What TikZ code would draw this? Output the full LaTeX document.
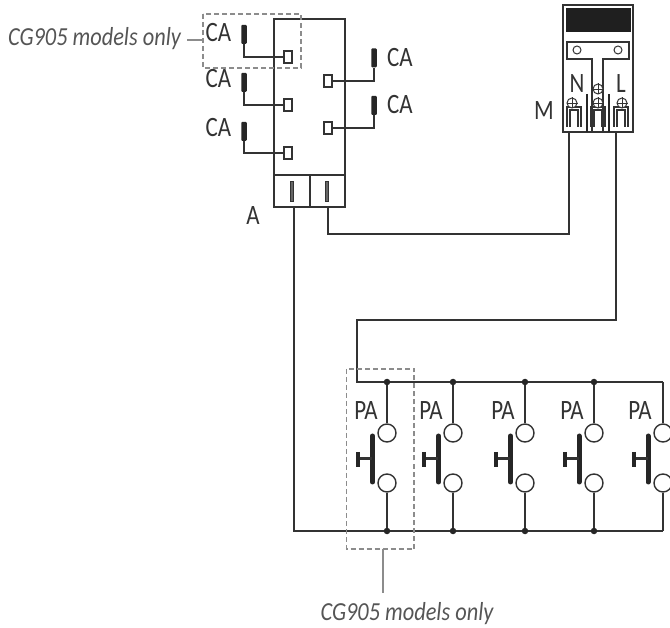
\documentclass[tikz,border=0pt]{standalone}
\usepackage{fontspec}
\setmainfont[FakeStretch=0.86]{Carlito}
\newfontfamily\labfont[FakeStretch=0.82]{Carlito}
\usepackage{tikz}
\usetikzlibrary{arrows,calc,positioning}
\definecolor{inkc}{HTML}{333333}
\definecolor{dashc}{HTML}{8C8C8C}
\definecolor{notec}{HTML}{555555}
\tikzset{
  wire/.style={draw=inkc,line width=1.4pt},
  lab/.style={anchor=base,inner sep=0pt,text=inkc,font=\labfont\fontsize{28}{28}\selectfont},
  note/.style={anchor=base,inner sep=0pt,text=notec,font=\fontsize{26}{26}\selectfont\itshape},
  dashbox/.style={draw=dashc,line width=1.3pt,dash pattern=on 5pt off 3pt},
  leader/.style={draw=dashc,line width=1.2pt},
  contact/.style={draw=inkc,fill=white,line width=1.4pt,inner sep=0pt,minimum width=8pt,minimum height=12pt},
  slot/.style={draw=inkc,fill=black!60,line width=1pt,inner sep=0pt,minimum width=3pt,minimum height=20pt},
  rod/.style={fill=black!85,rounded corners=1pt,inner sep=0pt,minimum width=5.5pt,minimum height=19pt},
  lamp/.style={circle,draw=inkc,fill=white,line width=1.4pt,inner sep=0pt,minimum size=18pt},
  junction/.style={circle,fill=black!85,inner sep=0pt,minimum size=6.5pt},
  bar/.style={line width=5pt,draw=black!85,line cap=round},
  screw/.style={circle,draw=inkc,fill=white,line width=1pt,inner sep=0pt,minimum size=10pt}
}
\begin{document}
\begin{tikzpicture}[x=1pt,y=-1pt]
\useasboundingbox (0,0) rectangle (670,628);
% control box A
\draw[wire] (274,19) rectangle (345,207);
\draw[wire] (274,175) to (345,175);
\draw[wire] (310,175) to (310,207);
\node[slot] (sa) at (292,192) {};
\node[slot] (sb) at (327,192) {};
\coordinate (ao) at (294,207);
\coordinate (bo) at (328,208);
\node[contact] (c1) at (288,57) {};
\node[contact] (c2) at (288,105) {};
\node[contact] (c3) at (288,153) {};
\node[contact] (c4) at (328,81) {};
\node[contact] (c5) at (328,128) {};
\node[rod] (r1) at (244,34.5) {};
\node[rod] (r2) at (244,82.5) {};
\node[rod] (r3) at (244,131.5) {};
\node[rod] (r4) at (374,58) {};
\node[rod] (r5) at (374,105.5) {};
\draw[wire] (r1.south) |- (c1.west);
\draw[wire] (r2.south) |- (c2.west);
\draw[wire] (r3.south) |- (c3.west);
\draw[wire] (c4.east) -| (r4.south);
\draw[wire] (c5.east) -| (r5.south);
\node[lab] (ca1) at (218.5,42) {CA};
\node[lab] (ca2) at (218.5,88) {CA};
\node[lab] (ca3) at (218.5,137) {CA};
\node[lab] (ca4) at (400,67) {CA};
\node[lab] (ca5) at (400,114) {CA};
\node[lab] (a) at (253,225) {A};
% terminal block M
\draw[draw=inkc,line width=1.1pt] (563,5) rectangle (633,132);
\fill[black!88] (566,8) rectangle (631,32);
\draw[wire,line width=1.1pt] (592,132) to (592,59) to (567,59) to (567,42) to (629,42) to (629,59) to (603,59) to (603,132);
\node[circle,draw=inkc,line width=1pt,inner sep=0pt,minimum size=8pt] (h1) at (577,50) {};
\node[circle,draw=inkc,line width=1pt,inner sep=0pt,minimum size=8pt] (h2) at (618,50) {};
\draw[line width=1.8pt,draw=black!85] (587,94) to (587,132);
\draw[line width=1.8pt,draw=black!85] (609,94) to (609,132);
\draw[wire,line width=1.1pt] (567,127) to (567,107) to (581,107) to (581,127); %n
\draw[wire,line width=1.1pt] (570,127) to (570,110) to (578,110) to (578,127);
\draw[wire,line width=1.1pt] (591,127) to (591,107) to (605,107) to (605,127); %g
\draw[wire,line width=1.1pt] (594,127) to (594,110) to (602,110) to (602,127);
\draw[wire,line width=1.1pt] (614,127) to (614,107) to (628,107) to (628,127); %l
\draw[wire,line width=1.1pt] (617,127) to (617,110) to (625,110) to (625,127);
\node[screw] (s1) at (572,103) {};
\node[screw] (s2) at (598,103) {};
\node[screw] (s3) at (622,103) {};
\node[screw] (s4) at (598,89) {};
\draw[draw=inkc,line width=.8pt] (s1.west) to (s1.east);
\draw[draw=inkc,line width=.8pt] (s1.north) to (s1.south);
\draw[draw=inkc,line width=.8pt] (s2.west) to (s2.east);
\draw[draw=inkc,line width=.8pt] (s2.north) to (s2.south);
\draw[draw=inkc,line width=.8pt] (s3.west) to (s3.east);
\draw[draw=inkc,line width=.8pt] (s3.north) to (s3.south);
\draw[draw=inkc,line width=.8pt] (s4.west) to (s4.east);
\draw[draw=inkc,line width=.8pt] (s4.north) to (s4.south);
\node[lab] (n) at (577,93) {N};
\node[lab] (l) at (621,93) {L};
\node[lab] (m) at (544,120) {M};
\coordinate (mn) at (569,132);
\coordinate (ml) at (616,132);
% push buttons
\coordinate (tl) at (357,382);
\coordinate (tr) at (663,382);
\coordinate (bl) at (294,531);
\coordinate (br) at (663,531);
\node[junction] (t1) at (387,382) {};
\node[junction] (t2) at (453,382) {};
\node[junction] (t3) at (525,382) {};
\node[junction] (t4) at (594,382) {};
\node[junction] (b1) at (387,531) {};
\node[junction] (b2) at (453,531) {};
\node[junction] (b3) at (525,531) {};
\node[junction] (b4) at (594,531) {};
\draw[wire] (ml) |- ($(tl)+(0,-62)$) -- (tl) -- (t1) -- (t2) -- (t3) -- (t4) -- (tr);
\draw[wire] (ao) -- (bl) -- (b1) -- (b2) -- (b3) -- (b4) -- (br);
\draw[wire] (bo) |- (369,234) -| (mn);
\node[lamp] (u1) at (387,433) {};
\node[lamp] (u2) at (453,433) {};
\node[lamp] (u3) at (525,433) {};
\node[lamp] (u4) at (594,433) {};
\node[lamp] (u5) at (663,433) {};
\node[lamp] (w1) at (387,483) {};
\node[lamp] (w2) at (453,483) {};
\node[lamp] (w3) at (525,483) {};
\node[lamp] (w4) at (594,483) {};
\node[lamp] (w5) at (663,483) {};
\draw[wire] (t1) -- (u1); \draw[wire] (w1) -- (b1);
\draw[wire] (t2) -- (u2); \draw[wire] (w2) -- (b2);
\draw[wire] (t3) -- (u3); \draw[wire] (w3) -- (b3);
\draw[wire] (t4) -- (u4); \draw[wire] (w4) -- (b4);
\draw[wire] (tr) -- (u5); \draw[wire] (w5) -- (br);
\draw[bar] (372.5,436) to (372.5,482); %1
\draw[line width=3pt,draw=inkc] (358,459) to (372,459);
\draw[line width=3.5pt,draw=black!85] (358,452) to (358,467);
\draw[bar] (438.5,436) to (438.5,482); %2
\draw[line width=3pt,draw=inkc] (424,459) to (438,459);
\draw[line width=3.5pt,draw=black!85] (424,452) to (424,467);
\draw[bar] (510.5,436) to (510.5,482); %3
\draw[line width=3pt,draw=inkc] (496,459) to (510,459);
\draw[line width=3.5pt,draw=black!85] (496,452) to (496,467);
\draw[bar] (579,436) to (579,482); %4
\draw[line width=3pt,draw=inkc] (565,459) to (579,459);
\draw[line width=3.5pt,draw=black!85] (565,452) to (565,467);
\draw[bar] (648,436) to (648,482); %5
\draw[line width=3pt,draw=inkc] (634,459) to (648,459);
\draw[line width=3.5pt,draw=black!85] (634,452) to (634,467);
\node[lab] (p1) at (366,420) {PA};
\node[lab] (p2) at (431,420) {PA};
\node[lab] (p3) at (503,420) {PA};
\node[lab] (p4) at (572,420) {PA};
\node[lab] (p5) at (640,420) {PA};
% model notes
\draw[dashbox] (203,14) rectangle (301,68);
\draw[dashbox] (346.5,369) rectangle (414,549);
\node[note] (n1) at (94.5,46) {CG905 models only};
\node[note] (n2) at (407,620) {CG905 models only};
\coordinate (d1) at (203,40);
\coordinate (d2) at (383,549);
\draw[leader] (d1) to (187,40);
\draw[leader] (d2) to (383,593);
\end{tikzpicture}
\end{document}
